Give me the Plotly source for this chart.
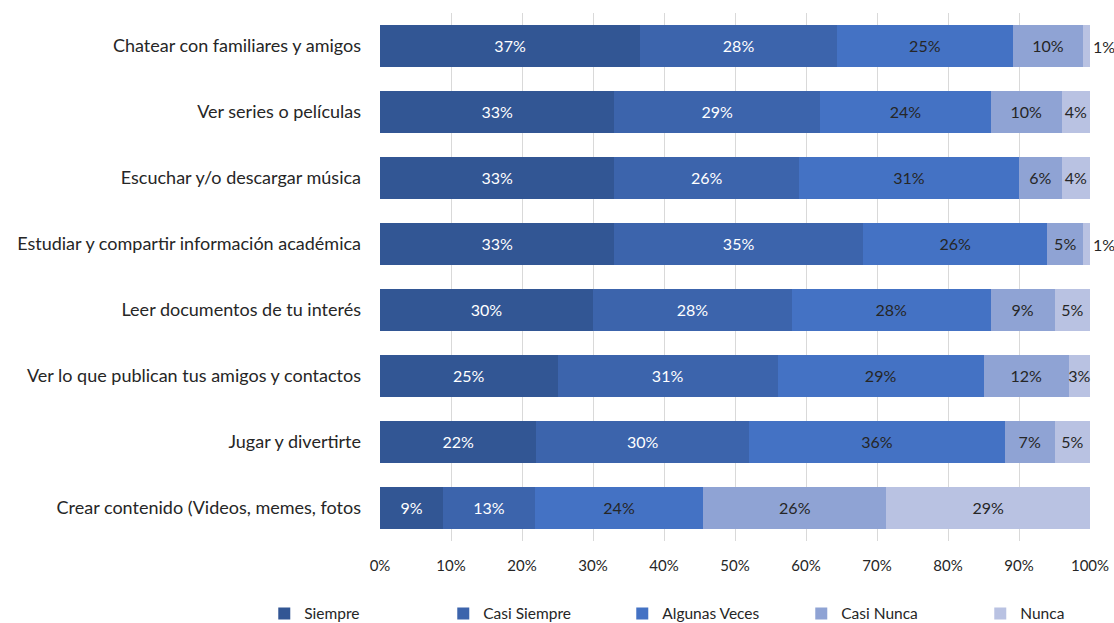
import plotly.graph_objects as go

categories = [
    "Chatear con familiares y amigos",
    "Ver series o películas",
    "Escuchar y/o descargar música",
    "Estudiar y compartir información académica",
    "Leer documentos de tu interés",
    "Ver lo que publican tus amigos y contactos",
    "Jugar y divertirte",
    "Crear contenido (Videos, memes, fotos",
]

series_names = ["Siempre", "Casi Siempre", "Algunas Veces", "Casi Nunca", "Nunca"]

siempre = [37, 33, 33, 33, 30, 25, 22, 9]
casi_siempre = [28, 29, 26, 35, 28, 31, 30, 13]
algunas_veces = [25, 24, 31, 26, 28, 29, 36, 24]
casi_nunca = [10, 10, 6, 5, 9, 12, 7, 26]
nunca = [1, 4, 4, 1, 5, 3, 5, 29]

x_ticks = list(range(0, 101, 10))

colors = ["#325694", "#3C64AC", "#4472C4", "#8FA3D4", "#B9C2E2"]
text_colors = ["white", "white", "#262626", "#262626", "#262626"]

FONT = "Lato, Open Sans, sans-serif"

fig = go.Figure()
for name, vals, col, tcol in zip(series_names,
                                 [siempre, casi_siempre, algunas_veces, casi_nunca, nunca],
                                 colors, text_colors):
    positions = ["outside" if (name == "Nunca" and v < 3) else "inside" for v in vals]
    fig.add_trace(go.Bar(
        name=name,
        y=categories,
        x=vals,
        orientation="h",
        marker=dict(color=col, line=dict(width=0)),
        text=[f"{v}%" for v in vals],
        textposition=positions,
        insidetextanchor="middle",
        textangle=0,
        insidetextfont=dict(color=tcol, size=16.5, family=FONT),
        outsidetextfont=dict(color="#262626", size=16, family=FONT),
        cliponaxis=False,
        constraintext="none",
        hoverinfo="skip",
    ))

fig.update_layout(
    barmode="stack",
    barnorm="percent",
    bargap=0.36,
    width=1114,
    height=623,
    margin=dict(l=380, r=24, t=13, b=82, autoexpand=False),
    paper_bgcolor="white",
    plot_bgcolor="white",
    font=dict(family=FONT, size=16, color="#262626"),
    uniformtext=dict(minsize=16, mode="show"),
    xaxis=dict(
        range=[0, 100],
        tickvals=x_ticks,
        ticktext=[f"{t}%" for t in x_ticks],
        showgrid=True,
        gridcolor="#D9D9D9",
        gridwidth=1,
        zeroline=False,
        showline=False,
        ticks="",
        ticklabelstandoff=14,
        tickfont=dict(size=15),
        fixedrange=True,
    ),
    yaxis=dict(
        autorange="reversed",
        showgrid=False,
        showline=False,
        ticks="",
        ticklabelstandoff=18,
        tickfont=dict(size=18),
        fixedrange=True,
    ),
    legend=dict(
        orientation="h",
        x=-0.163,
        xanchor="left",
        y=-0.138,
        yanchor="middle",
        entrywidth=134,
        itemwidth=30,
        font=dict(size=15.5),
        traceorder="normal",
    ),
)

fig.write_html("out.html")
